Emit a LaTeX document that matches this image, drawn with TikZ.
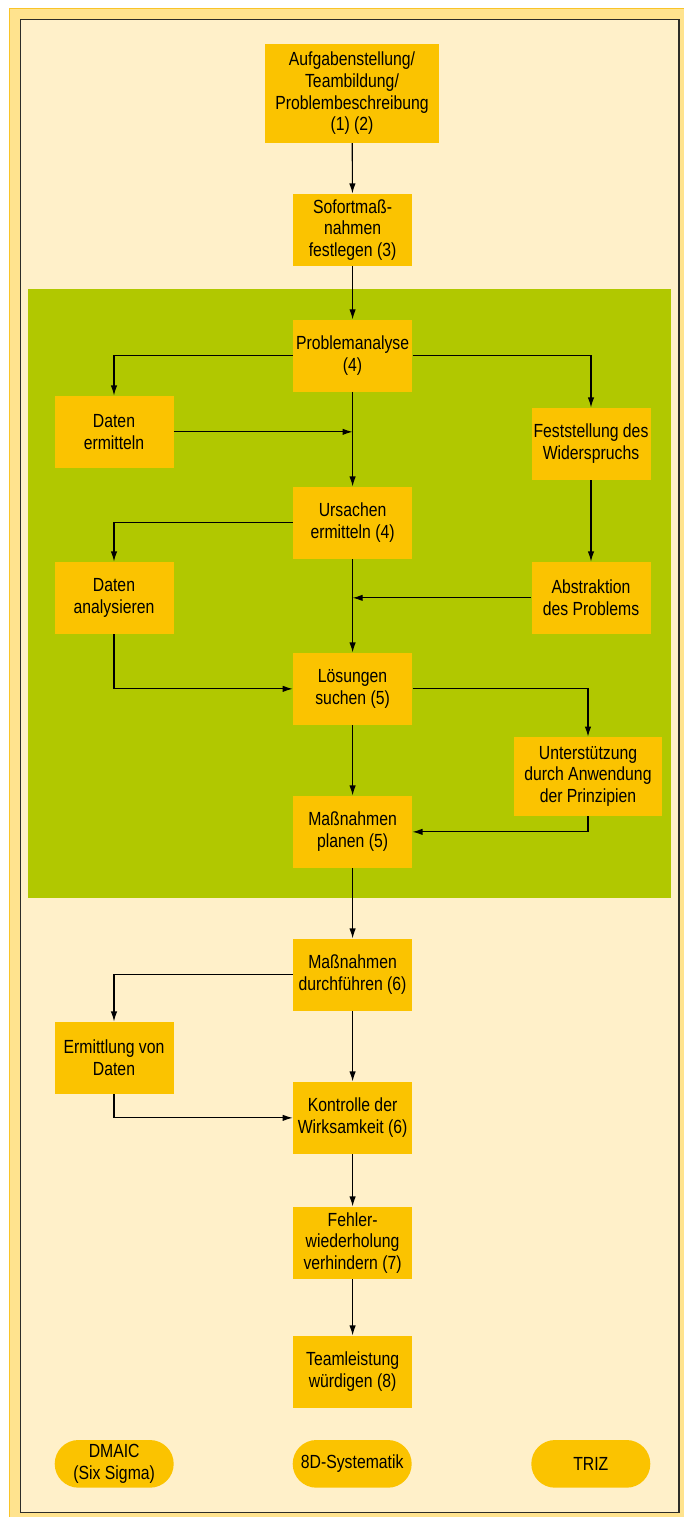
\documentclass[tikz,border=0pt]{standalone}
\usepackage{fontspec}
\setmainfont{Liberation Sans}[FakeStretch=0.83]
\usepackage{tikz}
\usetikzlibrary{arrows.meta}
\definecolor{bandc}{RGB}{255,227,142}
\definecolor{edgec}{RGB}{249,196,40}
\definecolor{creamc}{RGB}{255,240,201}
\definecolor{greenc}{RGB}{177,200,0}
\definecolor{boxc}{RGB}{251,195,0}
\definecolor{framec}{RGB}{45,45,40}

\begin{document}
\begin{tikzpicture}[x=0.5pt,y=-0.5pt,>={Latex[length=5pt,width=3.2pt]},
  box/.style={fill=boxc,minimum width=59.5pt,minimum height=36pt,inner sep=0pt,
    align=center,font=\fontsize{9.5}{10.85}\selectfont},
  pill/.style={box,rounded corners=11.9pt,minimum height=23.85pt},
  link/.style={->,line width=0.55pt}]
\useasboundingbox (0,0) rectangle (684,1517);
\fill[bandc] (9.6,8.3) rectangle (684,1517);
\draw[edgec,line width=0.8pt] (9.6,1517) -- (9.6,8.3) -- (684,8.3);
\filldraw[fill=creamc,draw=framec,line width=0.6pt] (20.5,19.3) rectangle (679,1512.3);
\fill[greenc] (28,289) rectangle (671,897.7);

\node[box,minimum width=87pt,minimum height=49.35pt] (auf) at (352,93.4) {Aufgabenstellung/\\Teambildung/\\Problembeschreibung\\(1) (2)};
\node[box] (sof) at (352.6,229.85) {Sofortmaß-\\nahmen\\festlegen (3)};
\node[box] (pa) at (352.6,355.8) {Problemanalyse\\(4)};
\node[box] (dat1) at (114,431.85) {Daten\\ermitteln};
\node[box] (fest) at (591,443.85) {Feststellung des\\Widerspruchs};
\node[box] (urs) at (352.6,522.85) {Ursachen\\ermitteln (4)};
\node[box] (dat2) at (114,597.85) {Daten\\analysieren};
\node[box] (abs) at (591,597.85) {Abstraktion\\des Problems};
\node[box] (loe) at (352.6,688.85) {Lösungen\\suchen (5)};
\node[box,minimum width=73.6pt,minimum height=39.35pt] (unt) at (588,776.35) {Unterstützung\\durch Anwendung\\der Prinzipien};
\node[box] (mp) at (352.6,831.85) {Maßnahmen\\planen (5)};
\node[box] (md) at (352.6,974.85) {Maßnahmen\\durchführen (6)};
\node[box] (erm) at (114,1057.85) {Ermittlung von\\Daten};
\node[box] (kon) at (352.6,1117.85) {Kontrolle der\\Wirksamkeit (6)};
\node[box] (feh) at (352.6,1242.85) {Fehler-\\wiederholung\\verhindern (7)};
\node[box] (team) at (352.6,1371.85) {Teamleistung\\würdigen (8)};

\node[pill] (dmaic) at (114.2,1463.85) {DMAIC\\(Six Sigma)};
\node[pill] (acht) at (352.2,1463.85) {8D-Systematik};
\node[pill] (triz) at (590.8,1463.85) {TRIZ};

\draw[link] (auf) -- (sof);
\draw[link] (sof) -- (pa);
\draw[link] (pa.west) -| (dat1.north);
\draw[link] (pa.east) -| (fest.north);
\draw[link] (pa) -- (urs);
\draw[link] (dat1.east) -- (dat1.east -| pa.south);
\draw[link] (urs.west) -| (dat2.north);
\draw[link] (fest) -- (abs);
\draw[link] (urs) -- (loe);
\draw[link] (abs.west) -- (abs.west -| urs.south);
\draw[link] (dat2.south) |- (loe.west);
\draw[link] (loe.east) -| (unt.north);
\draw[link] (loe) -- (mp);
\draw[link] (unt.south) |- (mp.east);
\draw[link] (mp) -- (md);
\draw[link] (md.west) -| (erm.north);
\draw[link] (md) -- (kon);
\draw[link] (erm.south) |- (kon.west);
\draw[link] (kon) -- (feh);
\draw[link] (feh) -- (team);
\end{tikzpicture}
\end{document}
